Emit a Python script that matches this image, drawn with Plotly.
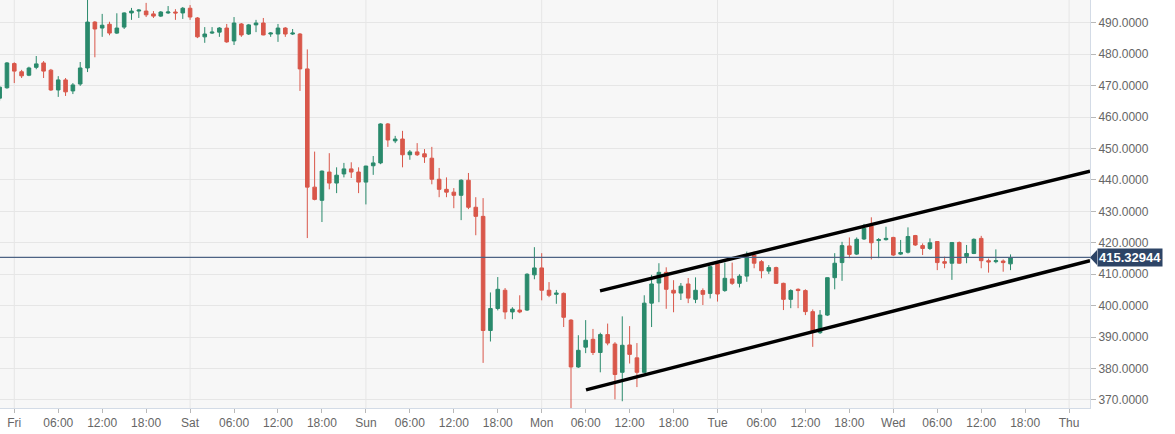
import pandas as pd
import plotly.graph_objects as go

# hourly candles, first one Thu 22:00
first_candle = "2020-12-03 22:00"

opens = [466.0, 469.3, 477.0, 474.4, 473.3, 475.8, 477.2, 474.9, 468.6, 471.8,
         468.3, 470.5, 475.6, 490.2, 488.3, 489.5, 486.7, 488.6, 493.1, 493.7,
         493.7, 492.8, 492.1, 493.1, 493.4, 493.1, 494.6, 491.5, 485.5, 486.7,
         487.0, 488.3, 484.2, 489.6, 486.4, 489.3, 489.9, 486.4, 486.4, 488.3,
         486.4, 486.4, 475.3, 437.7, 433.5, 442.5, 439.0, 441.9, 443.5, 442.5,
         439.3, 444.5, 445.4, 457.8, 452.4, 453.0, 448.0, 448.9, 448.3, 446.9,
         440.2, 437.0, 436.1, 435.1, 439.9, 431.3, 428.4, 392.1, 399.1, 404.9,
         398.0, 398.6, 398.6, 409.8, 412.0, 404.9, 403.6, 403.9, 395.4, 380.5,
         386.8, 389.3, 385.1, 390.8, 387.8, 378.8, 387.5, 383.4, 378.8, 400.8,
         407.2, 410.6, 404.9, 404.0, 406.9, 402.0, 404.8, 403.9, 413.3, 404.8,
         408.5, 407.1, 409.4, 416.1, 414.0, 411.0, 412.1, 407.1, 402.0, 405.2,
         404.8, 398.1, 391.4, 397.0, 408.9, 413.7, 419.0, 416.4, 421.2, 425.3,
         420.7, 421.0, 421.7, 416.4, 417.0, 422.3, 419.1, 418.2, 420.4, 414.0,
         413.5, 420.1, 415.6, 416.6, 421.4, 414.3, 414.0, 414.2, 413.3]
highs = [469.8, 477.5, 477.4, 475.0, 476.0, 479.4, 477.8, 475.3, 473.0, 472.4,
         470.8, 477.5, 498.0, 490.5, 492.8, 490.3, 493.0, 493.3, 494.7, 494.3,
         496.3, 493.7, 493.7, 495.3, 494.3, 495.0, 495.6, 491.8, 488.6, 488.6,
         488.6, 489.6, 491.8, 489.9, 489.6, 490.9, 491.5, 487.0, 489.6, 488.6,
         488.0, 486.7, 481.5, 449.0, 443.0, 448.5, 444.0, 445.4, 445.6, 444.0,
         444.5, 447.6, 458.0, 458.1, 454.0, 455.6, 449.5, 451.7, 449.8, 450.5,
         443.8, 440.8, 437.4, 440.2, 442.2, 434.5, 434.2, 404.2, 409.1, 405.6,
         399.5, 403.3, 410.3, 418.6, 416.7, 407.5, 405.0, 404.2, 395.7, 390.6,
         395.4, 392.6, 391.4, 394.3, 388.4, 396.6, 393.5, 388.1, 403.3, 409.8,
         413.5, 412.2, 408.1, 407.2, 408.8, 409.0, 405.5, 412.6, 413.5, 413.7,
         413.7, 410.0, 417.2, 417.2, 414.5, 412.9, 412.4, 407.3, 405.2, 405.5,
         405.2, 398.8, 398.6, 409.0, 416.7, 420.3, 421.7, 421.7, 426.0, 428.1,
         421.5, 425.1, 421.9, 420.9, 424.9, 422.5, 419.8, 421.4, 420.4, 415.6,
         420.1, 420.4, 419.3, 421.4, 422.2, 415.0, 417.9, 414.7, 416.3]
lows = [465.2, 469.0, 470.8, 472.4, 473.0, 475.2, 472.4, 468.3, 466.4, 466.7,
        467.3, 469.9, 474.3, 479.0, 485.5, 486.0, 486.4, 488.0, 490.9, 491.5,
        491.8, 491.5, 491.8, 492.8, 490.9, 491.2, 490.9, 485.1, 483.6, 486.4,
        485.5, 483.6, 482.9, 485.5, 486.1, 487.0, 486.0, 485.5, 483.9, 485.5,
        486.1, 468.3, 421.5, 433.5, 426.6, 437.0, 435.8, 440.8, 440.6, 435.8,
        432.2, 441.6, 445.0, 450.5, 451.7, 444.0, 446.4, 447.6, 445.4, 438.6,
        434.5, 434.5, 431.0, 427.2, 430.7, 422.4, 381.8, 388.6, 398.5, 395.7,
        395.7, 397.6, 398.3, 408.4, 401.7, 402.7, 400.6, 393.2, 367.4, 380.2,
        384.9, 384.3, 378.8, 387.4, 370.2, 369.6, 381.6, 374.1, 378.5, 393.2,
        401.1, 399.0, 397.9, 401.8, 400.8, 400.8, 400.2, 402.3, 401.3, 404.4,
        406.6, 405.8, 407.6, 411.9, 408.7, 410.1, 406.9, 398.6, 399.2, 399.2,
        397.0, 386.9, 391.0, 396.7, 405.2, 407.9, 415.1, 416.1, 420.9, 414.7,
        415.1, 420.7, 415.8, 416.1, 416.6, 419.0, 416.1, 417.7, 411.3, 411.9,
        408.2, 413.3, 413.5, 416.4, 411.9, 410.5, 413.5, 410.8, 411.3]
closes = [469.5, 477.2, 474.6, 473.1, 475.6, 476.9, 474.6, 468.6, 471.8, 468.0,
          470.2, 475.6, 490.2, 488.0, 489.2, 486.7, 488.3, 493.1, 493.7, 494.0,
          492.5, 492.1, 493.4, 493.4, 493.1, 494.6, 491.8, 485.5, 486.4, 487.0,
          488.3, 483.9, 489.9, 486.1, 489.3, 489.9, 486.1, 486.7, 488.3, 486.4,
          486.7, 475.3, 437.7, 433.8, 442.8, 439.0, 441.5, 443.5, 442.5, 439.3,
          444.4, 445.4, 457.8, 452.7, 453.0, 448.0, 448.9, 448.0, 447.3, 440.2,
          437.0, 436.1, 435.1, 439.9, 431.3, 428.4, 392.1, 399.1, 405.2, 398.0,
          398.9, 398.0, 410.0, 412.0, 404.9, 403.3, 404.0, 396.3, 380.5, 385.8,
          389.0, 385.1, 390.8, 388.1, 378.1, 387.4, 384.5, 378.8, 400.8, 406.9,
          410.6, 405.2, 404.0, 406.2, 402.4, 404.9, 403.6, 412.4, 403.7, 408.7,
          407.1, 409.4, 415.6, 413.5, 411.1, 412.1, 407.1, 402.0, 404.8, 404.8,
          398.1, 391.7, 397.0, 408.9, 413.5, 419.1, 416.3, 421.1, 424.6, 420.0,
          421.0, 421.4, 416.1, 416.9, 422.0, 419.3, 418.2, 420.0, 413.7, 413.5,
          420.1, 413.5, 416.6, 421.1, 414.3, 413.9, 414.3, 413.7, 415.32944]

last_price = 415.32944

# trend channel drawn on the chart
upper_x = ["2020-12-07 07:58", "2020-12-10 02:51"]
upper_y = [404.7, 442.8]
lower_x = ["2020-12-07 06:03", "2020-12-10 02:51"]
lower_y = [373.2, 414.3]

y_ticks = list(range(370, 491, 10))
x_range = ["2020-12-03 22:03", "2020-12-10 02:51"]
y_range = [367.45, 497.22]

times = pd.date_range(first_candle, periods=len(closes), freq="h")
tick_times = pd.date_range("2020-12-04", "2020-12-10", freq="6h")
tick_text = [t.strftime("%a") if t.hour == 0 else t.strftime("%H:%M") for t in tick_times]
days = pd.date_range("2020-12-04", "2020-12-10", freq="D")

GREEN = "#2a8a6c"
RED = "#d9574a"
GRID = "#e6e6e6"
AXIS = "#d3dbe6"
LABEL = "#2d4466"

fig = go.Figure()
fig.add_trace(go.Candlestick(
    x=times, open=opens, high=highs, low=lows, close=closes,
    increasing=dict(line=dict(color=GREEN, width=1), fillcolor=GREEN),
    decreasing=dict(line=dict(color=RED, width=1), fillcolor=RED),
    whiskerwidth=0, showlegend=False, hoverinfo="skip"))

for xs, ys in [(upper_x, upper_y), (lower_x, lower_y)]:
    fig.add_trace(go.Scatter(x=xs, y=ys, mode="lines",
                             line=dict(color="black", width=3.5),
                             showlegend=False, hoverinfo="skip"))

# day separators
for d in days:
    fig.add_shape(type="line", xref="x", yref="paper", x0=d, x1=d, y0=0, y1=1,
                  line=dict(color=GRID, width=1), layer="below")

# last price line and tag
fig.add_shape(type="line", xref="paper", yref="y", x0=0, x1=1,
              y0=last_price, y1=last_price,
              line=dict(color="#4d6384", width=1.2))

plot_w = 1090
yp = (last_price - y_range[0]) / (y_range[1] - y_range[0])
half = 7.5 / 408
tip = 7 / plot_w
fig.add_shape(type="path", xref="paper", yref="paper",
              path=f"M 1,{yp} L {1 + tip},{yp + half} L {1 + tip},{yp - half} Z",
              fillcolor=LABEL, line=dict(width=0))
fig.add_annotation(xref="paper", yref="y", x=1, y=last_price, xshift=7,
                   xanchor="left", yanchor="middle", showarrow=False,
                   text="<b>415.32944</b>", bgcolor=LABEL, borderpad=1,
                   font=dict(color="white", size=13, family="Arial, Liberation Sans"))

fig.update_layout(
    width=1175, height=434,
    margin=dict(l=0, r=85, t=0, b=26),
    paper_bgcolor="white",
    plot_bgcolor="#f7f7f7",
    font=dict(family="Arial, Liberation Sans", size=12, color="#666666"),
    showlegend=False,
    xaxis=dict(range=x_range, rangeslider=dict(visible=False),
               tickvals=tick_times, ticktext=tick_text, showgrid=False,
               zeroline=False, showline=True, linecolor=AXIS, linewidth=1,
               ticks="outside", ticklen=4, tickcolor="#b8b8b8"),
    yaxis=dict(range=y_range, side="right", tickvals=y_ticks, tickformat=".4f",
               showgrid=True, gridcolor=GRID, zeroline=False,
               showline=True, linecolor=AXIS, linewidth=1,
               ticks="outside", ticklen=5, tickcolor="#b8b8b8"),
)

# page body has a default 8px margin; drop it so the figure fills the window
fig.write_html("out.html", config={"displayModeBar": False},
               post_script="document.body.style.margin='0';")
